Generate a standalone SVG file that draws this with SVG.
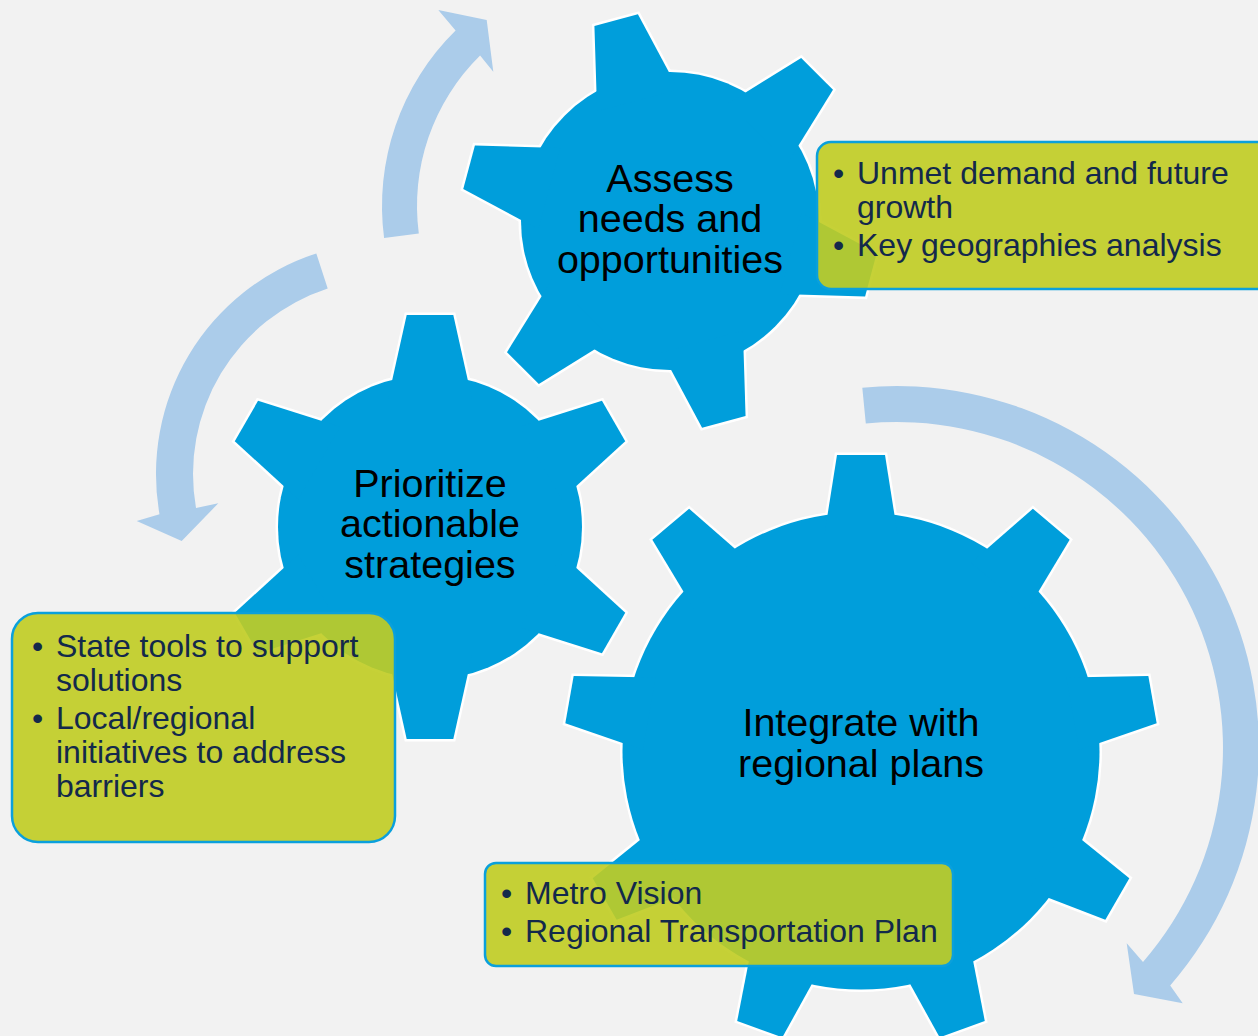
<svg xmlns="http://www.w3.org/2000/svg" xmlns:xlink="http://www.w3.org/1999/xlink" width="1258" height="1036" viewBox="0 0 1258 1036">
<style>
.out{fill:#009EDB;stroke:#ffffff;stroke-width:5;stroke-linejoin:miter}
.gf{fill:#009EDB}
.gt{font-family:"Liberation Sans",Arial,sans-serif;font-size:39.5px;fill:#000;text-anchor:middle}
.box{fill:rgb(192,204,35);fill-opacity:0.91;stroke:#0AA0DC;stroke-width:2.5}
.bt{font-family:"Liberation Sans",Arial,sans-serif;font-size:32px;fill:#13294B}
.bul{text-anchor:middle}
.arr{fill:#ABCCEA}
</style>
<defs>
<g id="g1s">
<circle cx="0" cy="0" r="149"/>
<polygon points="125,-42 208,-22.5 208,22.5 125,42" transform="rotate(-105)"/>
<polygon points="125,-42 208,-22.5 208,22.5 125,42" transform="rotate(-45)"/>
<polygon points="125,-42 208,-22.5 208,22.5 125,42" transform="rotate(15)"/>
<polygon points="125,-42 208,-22.5 208,22.5 125,42" transform="rotate(75)"/>
<polygon points="125,-42 208,-22.5 208,22.5 125,42" transform="rotate(135)"/>
<polygon points="125,-42 208,-22.5 208,22.5 125,42" transform="rotate(195)"/>
</g>
<g id="g2s">
<circle cx="0" cy="0" r="152"/>
<polygon points="128,-42 212,-23.3 212,23.3 128,42" transform="rotate(-90)"/>
<polygon points="128,-42 212,-23.3 212,23.3 128,42" transform="rotate(-30)"/>
<polygon points="128,-42 212,-23.3 212,23.3 128,42" transform="rotate(30)"/>
<polygon points="128,-42 212,-23.3 212,23.3 128,42" transform="rotate(90)"/>
<polygon points="128,-42 212,-23.3 212,23.3 128,42" transform="rotate(150)"/>
<polygon points="128,-42 212,-23.3 212,23.3 128,42" transform="rotate(210)"/>
</g>
<g id="g3s">
<circle cx="0" cy="0" r="238.5"/>
<polygon points="215,-36.8 296,-24 296,24 215,36.8" transform="rotate(-90)"/>
<polygon points="215,-36.8 296,-24 296,24 215,36.8" transform="rotate(-50)"/>
<polygon points="215,-36.8 296,-24 296,24 215,36.8" transform="rotate(-10)"/>
<polygon points="215,-36.8 296,-24 296,24 215,36.8" transform="rotate(30)"/>
<polygon points="215,-36.8 296,-24 296,24 215,36.8" transform="rotate(70)"/>
<polygon points="215,-36.8 296,-24 296,24 215,36.8" transform="rotate(110)"/>
<polygon points="215,-36.8 296,-24 296,24 215,36.8" transform="rotate(150)"/>
<polygon points="215,-36.8 296,-24 296,24 215,36.8" transform="rotate(190)"/>
<polygon points="215,-36.8 296,-24 296,24 215,36.8" transform="rotate(230)"/>
</g>
</defs>
<rect x="0" y="0" width="1258" height="1036" fill="#F2F2F2"/>
<g id="connectors">
<path class="arr" d="M384.1,238.1 A246,246 0 0 1 455.6,30.5 L438.3,10 L486.7,20 L493.3,71.7 L480.1,55.5 A211,211 0 0 0 418.8,233.5 Z"/>
<path class="arr" d="M316.3,253.4 A232,232 0 0 0 159.5,514.3 L136.7,521 L181.7,541 L218.3,503.3 L196,507.9 A195,195 0 0 1 327.7,288.5 Z"/>
<path class="arr" d="M862.3,387.7 A362,362 0 0 1 1170.2,985.5 L1182.7,1003.3 L1134,994 L1126.7,943.3 L1143,961.9 A326,326 0 0 0 865.8,423.5 Z"/>
</g>
<g id="gear-assess">
<use xlink:href="#g1s" href="#g1s" class="out" transform="translate(670,221)"/>
<use xlink:href="#g1s" href="#g1s" class="gf" transform="translate(670,221)"/>
<text class="gt" x="670" y="192">Assess</text>
<text class="gt" x="670" y="232">needs and</text>
<text class="gt" x="670" y="273">opportunities</text>
</g>
<g id="gear-prioritize">
<use xlink:href="#g2s" href="#g2s" class="out" transform="translate(430,527)"/>
<use xlink:href="#g2s" href="#g2s" class="gf" transform="translate(430,527)"/>
<text class="gt" x="430" y="497">Prioritize</text>
<text class="gt" x="430" y="537">actionable</text>
<text class="gt" x="430" y="578">strategies</text>
</g>
<g id="gear-integrate">
<use xlink:href="#g3s" href="#g3s" class="out" transform="translate(861,751)"/>
<use xlink:href="#g3s" href="#g3s" class="gf" transform="translate(861,751)"/>
<text class="gt" x="861" y="736">Integrate with</text>
<text class="gt" x="861" y="777">regional plans</text>
</g>
<g id="box-assess">
<rect class="box" x="817" y="142" width="460" height="147" rx="14"/>
<text class="bt bul" x="838.5" y="184">•</text>
<text class="bt" x="857" y="184">Unmet demand and future</text>
<text class="bt" x="857" y="218">growth</text>
<text class="bt bul" x="838.5" y="256">•</text>
<text class="bt" x="857" y="256">Key geographies analysis</text>
</g>
<g id="box-prioritize">
<rect class="box" x="12" y="613" width="383" height="229" rx="26"/>
<text class="bt bul" x="37.5" y="657">•</text>
<text class="bt" x="56" y="657">State tools to support</text>
<text class="bt" x="56" y="691">solutions</text>
<text class="bt bul" x="37.5" y="728.5">•</text>
<text class="bt" x="56" y="728.5">Local/regional</text>
<text class="bt" x="56" y="762.5">initiatives to address</text>
<text class="bt" x="56" y="796.5">barriers</text>
</g>
<g id="box-integrate">
<rect class="box" x="485" y="863" width="468" height="103" rx="11"/>
<text class="bt bul" x="506.5" y="904">•</text>
<text class="bt" x="525" y="904">Metro Vision</text>
<text class="bt bul" x="506.5" y="942">•</text>
<text class="bt" x="525" y="942">Regional Transportation Plan</text>
</g>
</svg>
